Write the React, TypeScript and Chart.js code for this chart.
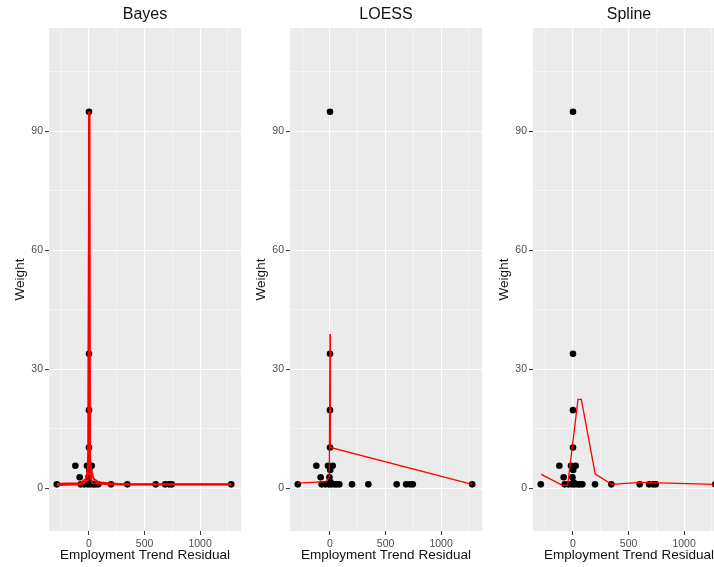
import React, { useEffect, useRef } from "react";
import { Chart, registerables } from "chart.js";

Chart.register(...registerables);

// ---- data ----
const panelTitles = ["Bayes", "LOESS", "Spline"];

const residual = [-290, -123, -84, -75, -42, -18, -10, -5, 0, 0, 0, 0, 2, 5, 12, 24, 39, 60, 84, 198, 345, 600, 685, 720, 745, 1280];
const weight = [1, 5.7, 2.8, 1, 1, 5.7, 1, 2.8, 94.9, 33.9, 19.7, 10.3, 4.6, 1.5, 1, 5.7, 1, 1, 1, 1, 1, 1, 1, 1, 1, 1];

const bayes1X = [-290, -100, -40, -15, -5, 0, 6, 20, 50, 100, 300, 1280];
const bayes1Y = [1.0, 1.1, 1.6, 3.5, 10, 94.9, 10, 4, 1.8, 1.2, 1.0, 1.0];
const bayes2X = [-290, -80, -25, -8, 0, 12, 40, 90, 300, 1280];
const bayes2Y = [1.2, 1.3, 2.5, 6, 94.9, 6, 2.5, 1.5, 1.1, 1.1];
const bayes3X = [-290, -60, -10, -3, 0, 3, 10, 30, 300, 1280];
const bayes3Y = [0.8, 1.0, 2, 12, 94.9, 12, 3, 1.2, 0.9, 0.9];

const loessX = [-290, -36, -6, 0, 3, 1280];
const loessY = [1.3, 1.7, 2.9, 38.9, 10.3, 1.0];

const splineX = [-285, -99, -48, 45, 75, 200, 350, 605, 1280, 1400];
const splineY = [3.5, 0.8, 0.8, 22.4, 22.4, 3.6, 1.0, 1.5, 1.0, 1.0];

const xMajor = [0, 500, 1000];
const xMinor = [-250, 250, 750, 1250];
const yMajor = [0, 30, 60, 90];
const yMinor = [15, 45, 75, 105];

const X_MIN = -360;
const X_MAX = 1368;
const Y_MIN = -10.76;
const Y_MAX = 116;

const FONT = "'Liberation Sans', Arial, Helvetica, sans-serif";

const toXY = (xs: number[], ys: number[]) => xs.map((x, i) => ({ x, y: ys[i] }));

const panelBg = {
  id: "panelBg",
  beforeDraw(chart: any) {
    const { ctx, chartArea } = chart;
    if (!chartArea) return;
    ctx.save();
    ctx.fillStyle = "#EBEBEB";
    ctx.fillRect(chartArea.left, chartArea.top, chartArea.right - chartArea.left, chartArea.bottom - chartArea.top);
    ctx.restore();
  },
};

function lineDs(xs: number[], ys: number[], width: number) {
  return {
    type: "line",
    data: toXY(xs, ys),
    borderColor: "#FF0000",
    backgroundColor: "#FF0000",
    borderWidth: width,
    pointRadius: 0,
    showLine: true,
    tension: 0,
    fill: false,
  };
}

function makeConfig(title: string, lines: any[]) {
  const allX = [...xMinor, ...xMajor].sort((a, b) => a - b);
  const allY = [...yMinor, ...yMajor].sort((a, b) => a - b);
  return {
    type: "scatter",
    data: {
      datasets: [
        ...lines,
        {
          type: "scatter",
          data: toXY(residual, weight),
          backgroundColor: "#000000",
          borderColor: "#000000",
          pointRadius: 3.3,
          borderWidth: 0,
        },
      ],
    },
    options: {
      responsive: false,
      animation: false,
      devicePixelRatio: 1,
      layout: { padding: { left: 0, right: 4, top: 0, bottom: 0 } },
      plugins: {
        legend: { display: false },
        tooltip: { enabled: false },
        title: {
          display: true,
          text: title,
          fullSize: false,
          color: "#111111",
          font: { family: FONT, size: 16, weight: "normal", lineHeight: 1.2 },
          padding: { top: 5, bottom: 3.8 },
        },
      },
      scales: {
        x: {
          type: "linear",
          min: X_MIN,
          max: X_MAX,
          bounds: "data",
          afterBuildTicks: (s: any) => {
            s.ticks = allX.map((v) => ({ value: v }));
          },
          afterFit: (s: any) => {
            s.height = 36;
          },
          border: { display: false },
          grid: {
            color: "#FFFFFF",
            lineWidth: (c: any) => (c.tick && xMajor.includes(c.tick.value) ? 1.1 : 0.5),
            tickColor: (c: any) => (c.tick && xMajor.includes(c.tick.value) ? "#333333" : "rgba(0,0,0,0)"),
            tickLength: 4,
            tickWidth: 1,
          },
          ticks: {
            callback: (v: any) => (xMajor.includes(v) ? String(v) : ""),
            color: "#4D4D4D",
            font: { family: FONT, size: 10.5 },
            padding: 2.5,
            maxRotation: 0,
            autoSkip: false,
          },
          title: {
            display: true,
            text: "Employment Trend Residual",
            color: "#111111",
            font: { family: FONT, size: 13.5 },
            padding: { top: 0, bottom: 3.5 },
          },
        },
        y: {
          type: "linear",
          min: Y_MIN,
          max: Y_MAX,
          bounds: "data",
          afterBuildTicks: (s: any) => {
            s.ticks = allY.map((v) => ({ value: v }));
          },
          afterFit: (s: any) => {
            s.width = 49;
          },
          border: { display: false },
          grid: {
            color: "#FFFFFF",
            lineWidth: (c: any) => (c.tick && yMajor.includes(c.tick.value) ? 1.1 : 0.5),
            tickColor: (c: any) => (c.tick && yMajor.includes(c.tick.value) ? "#333333" : "rgba(0,0,0,0)"),
            tickLength: 4,
            tickWidth: 1,
          },
          ticks: {
            callback: (v: any) => (yMajor.includes(v) ? String(v) : ""),
            color: "#4D4D4D",
            font: { family: FONT, size: 10.5 },
            padding: 2,
            autoSkip: false,
          },
          title: {
            display: true,
            text: "Weight",
            color: "#111111",
            font: { family: FONT, size: 13.5 },
            padding: { top: 12, bottom: 0 },
          },
        },
      },
    },
    plugins: [panelBg],
  };
}

const PANEL_LEFTS = [0, 241, 484];
const CANVAS_W = 245;
const CANVAS_H = 567;

export default function App() {
  const r1 = useRef<HTMLCanvasElement>(null);
  const r2 = useRef<HTMLCanvasElement>(null);
  const r3 = useRef<HTMLCanvasElement>(null);

  useEffect(() => {
    const panels = [
      [lineDs(bayes1X, bayes1Y, 1.6), lineDs(bayes2X, bayes2Y, 1.6), lineDs(bayes3X, bayes3Y, 1.6)],
      [lineDs(loessX, loessY, 1.3)],
      [lineDs(splineX, splineY, 1.3)],
    ];
    const refs = [r1, r2, r3];
    const charts = refs.map((r, i) => new Chart(r.current as HTMLCanvasElement, makeConfig(panelTitles[i], panels[i]) as any));
    return () => charts.forEach((c) => c.destroy());
  }, []);

  const refs = [r1, r2, r3];
  return (
    <div style={{ position: "absolute", left: 0, top: 0, width: 714, height: 567, overflow: "hidden", background: "#FFFFFF" }}>
      {refs.map((r, i) => (
        <canvas
          key={i}
          ref={r}
          width={CANVAS_W}
          height={CANVAS_H}
          style={{ position: "absolute", left: PANEL_LEFTS[i], top: 0, width: CANVAS_W, height: CANVAS_H, display: "block" }}
        />
      ))}
    </div>
  );
}
